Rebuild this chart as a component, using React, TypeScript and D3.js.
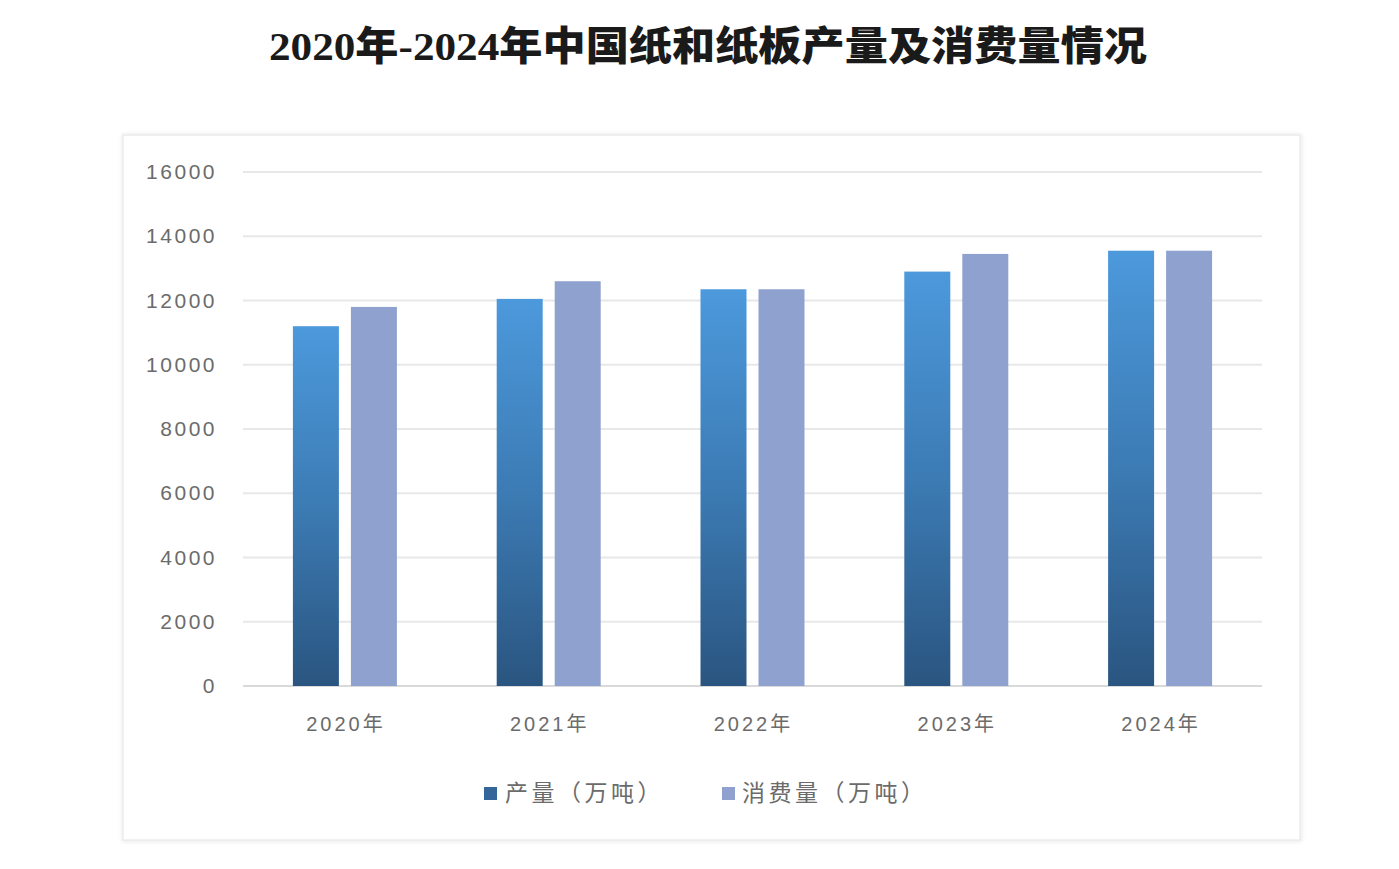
import React from "react";
import * as d3 from "d3";

const years = ["2020年", "2021年", "2022年", "2023年", "2024年"];
const production = [11200, 12050, 12350, 12900, 13550];
const consumption = [11800, 12600, 12350, 13450, 13550];
const yTicks = [0, 2000, 4000, 6000, 8000, 10000, 12000, 14000, 16000];
const seriesNames = ["产量（万吨）", "消费量（万吨）"];
const title = "2020年-2024年中国纸和纸板产量及消费量情况";

export default function App() {
  const W = 1399, H = 869;
  const plotL = 243, plotR = 1262, plotT = 172, plotB = 686;
  const x = d3.scaleBand<string>().domain(years).range([plotL, plotR]).paddingInner(0).paddingOuter(0);
  const y = d3.scaleLinear().domain([0, 16000]).range([plotB, plotT]);
  const barW = 46;
  const gap = 12;
  const sub = d3.scaleBand<string>().domain(["p", "c"]).range([0, barW * 2 + gap]).paddingInner(gap / (barW + gap)).paddingOuter(0);
  const groupW = barW * 2 + gap;
  const labelFont = "'Liberation Sans', 'Noto Sans CJK SC', sans-serif";
  return (
    <svg width={W} height={H} style={{ position: "absolute", left: 0, top: 0, background: "#fff" }}>
      <defs>
        <linearGradient id="prodGrad" x1="0" y1="0" x2="0" y2="1">
          <stop offset="0%" stopColor="#4c99dc" />
          <stop offset="50%" stopColor="#3c7bb4" />
          <stop offset="100%" stopColor="#2a5580" />
        </linearGradient>
        <filter id="shadow" x="-5%" y="-5%" width="110%" height="110%">
          <feGaussianBlur stdDeviation="2" />
        </filter>
      </defs>
      <rect x={0} y={0} width={W} height={H} fill="#fff" />
      <text
        x={708}
        y={60}
        textAnchor="middle"
        fontFamily="'Liberation Serif', 'Noto Sans CJK SC', serif"
        fontWeight={900}
        fontSize={40}
        fill="#1a1a1a"
        textLength={878}
        lengthAdjust="spacingAndGlyphs"
      >
        {title}
      </text>
      <rect x={124} y={136} width={1176} height={704} fill="none" stroke="#e4e4e4" strokeWidth={3} filter="url(#shadow)" />
      <rect x={123} y={135} width={1177} height={705} fill="#fff" stroke="#ececec" strokeWidth={1.5} />
      {yTicks.map((t) => (
        <g key={t}>
          <line x1={plotL} x2={plotR} y1={y(t)} y2={y(t)} stroke={t === 0 ? "#d9d9d9" : "#e8e8e8"} strokeWidth={2} />
          <text x={217} y={y(t) + 7} textAnchor="end" fontFamily={labelFont} fontSize={21} letterSpacing={2.5} fill="#6b6b6b">
            {t}
          </text>
        </g>
      ))}
      {years.map((yr, i) => {
        const gx = (x(yr) as number) + x.bandwidth() / 2 - groupW / 2;
        return (
          <g key={yr}>
            <rect
              x={gx + (sub("p") as number)}
              y={y(production[i])}
              width={sub.bandwidth()}
              height={plotB - y(production[i])}
              fill="url(#prodGrad)"
            />
            <rect
              x={gx + (sub("c") as number)}
              y={y(consumption[i])}
              width={sub.bandwidth()}
              height={plotB - y(consumption[i])}
              fill="#8fa2cf"
            />
            <text
              x={(x(yr) as number) + x.bandwidth() / 2 + 1}
              y={731}
              textAnchor="middle"
              fontFamily={labelFont}
              fontSize={20}
              letterSpacing={3}
              fill="#6b6b6b"
            >
              {yr}
            </text>
          </g>
        );
      })}
      <g>
        <rect x={484} y={787} width={13} height={13} fill="#35669a" />
        <text x={505} y={801} fontFamily={labelFont} fontSize={23} letterSpacing={3.5} fill="#6b6b6b">
          {seriesNames[0]}
        </text>
        <rect x={722} y={787} width={13} height={13} fill="#8fa2cf" />
        <text x={742} y={801} fontFamily={labelFont} fontSize={23} letterSpacing={3.5} fill="#6b6b6b">
          {seriesNames[1]}
        </text>
      </g>
    </svg>
  );
}
